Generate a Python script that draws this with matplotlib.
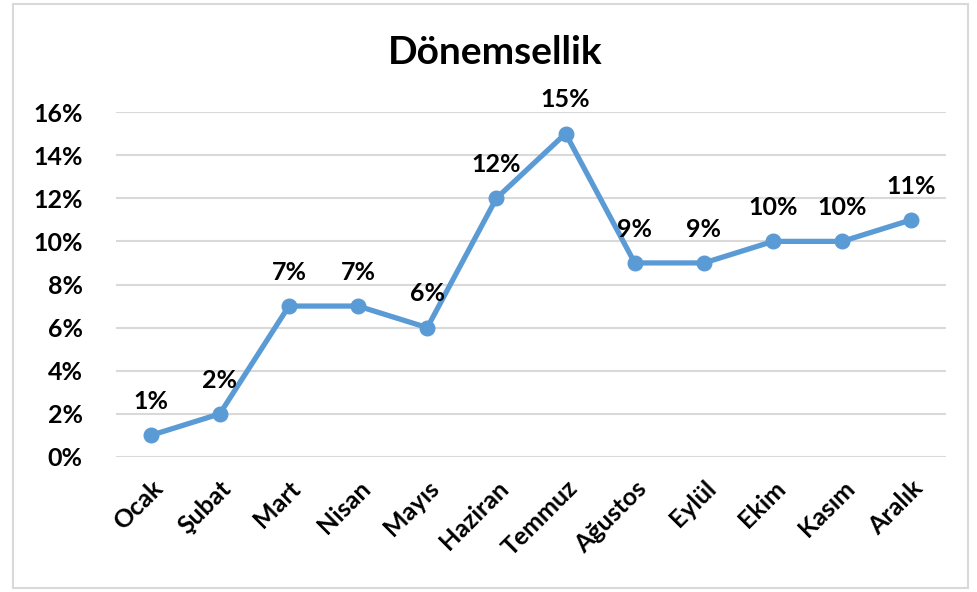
import matplotlib
matplotlib.use("Agg")
import matplotlib.pyplot as plt
from matplotlib.patches import Rectangle
from matplotlib.ticker import FuncFormatter

months = ["Ocak", "Şubat", "Mart", "Nisan", "Mayıs", "Haziran", "Temmuz",
          "Ağustos", "Eylül", "Ekim", "Kasım", "Aralık"]
values = [0.01, 0.02, 0.07, 0.07, 0.06, 0.12, 0.15, 0.09, 0.09, 0.10, 0.10, 0.11]
labels = ["1%", "2%", "7%", "7%", "6%", "12%", "15%", "9%", "9%", "10%", "10%", "11%"]
yticks = [0, 0.02, 0.04, 0.06, 0.08, 0.10, 0.12, 0.14, 0.16]

plt.rcParams['font.family'] = ['Lato', 'DejaVu Sans']

fig = plt.figure(figsize=(9.78, 5.92), dpi=100)
fig.patches.append(Rectangle((13/978, 4/592), (968-13)/978, (588-4)/592,
                             transform=fig.transFigure, fill=False,
                             edgecolor="#D9D9D9", linewidth=1.5))
ax = fig.add_axes([116/978, 1-457/592, (946-116)/978, (457-112)/592])

x = list(range(len(months)))
ax.plot(x, values, color="#5B9BD5", linewidth=3.8, marker="o", markersize=10.5,
        solid_capstyle="round", solid_joinstyle="round", zorder=3)
for xi, v, lab in zip(x, values, labels):
    ax.annotate(lab, (xi, v), xytext=(0, 16), textcoords="offset points",
                ha="center", va="bottom", fontsize=18, fontweight="bold",
                color="#000000")

ax.set_xlim(-0.5, len(months) - 0.5)
ax.set_ylim(0, 0.16)
ax.set_yticks(yticks)
ax.yaxis.set_major_formatter(FuncFormatter(lambda v, p: f"{round(v*100)}%"))
ax.set_xticks(x)
ax.set_xticklabels(months, rotation=45, ha="right", rotation_mode="anchor")
ax.tick_params(axis="both", length=0, labelsize=18)
ax.tick_params(axis="y", pad=24)
ax.tick_params(axis="x", pad=14)
for lab in ax.get_xticklabels() + ax.get_yticklabels():
    lab.set_fontweight("bold")
ax.grid(axis="y", color="#D9D9D9", linewidth=1.5)
ax.set_axisbelow(True)
for s in ax.spines.values():
    s.set_visible(False)

fig.text(495/978, 1-52/592, "Dönemsellik", ha="center", va="center",
         fontsize=28, fontweight="bold")

fig.savefig("out.png", dpi=100)
